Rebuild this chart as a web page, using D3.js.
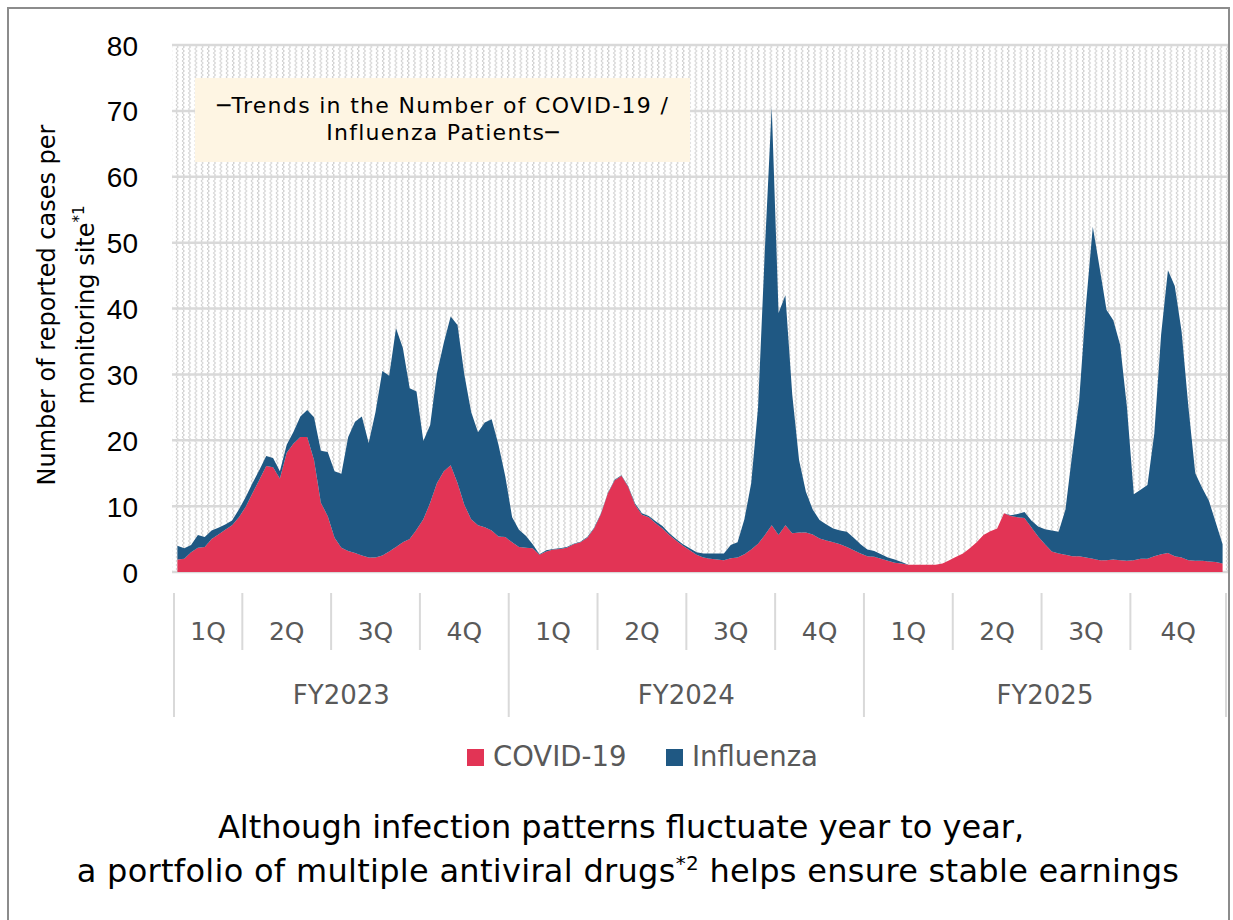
<!DOCTYPE html>
<html>
<head>
<meta charset="utf-8">
<script src="https://cdn.jsdelivr.net/npm/d3@7"></script>
<style>
  body { margin: 0; background: #fff; }
  svg { display: block; font-family: "DejaVu Sans", "Noto Sans", sans-serif; }
</style>
</head>
<body>
<div id="chartDiv"></div>
<script>
// weekly values, per monitoring site
var covid = [
  1.9, 2.0, 3.0, 3.7, 3.8, 5.0, 5.7, 6.4, 7.1, 8.3,
  9.9, 12.0, 14.0, 16.1, 15.9, 14.2, 18.1, 19.5, 20.5, 20.5,
  17.0, 10.5, 8.5, 5.2, 3.7, 3.2, 2.9, 2.5, 2.2, 2.2,
  2.5, 3.1, 3.8, 4.5, 5.0, 6.4, 8.0, 10.5, 13.5, 15.3,
  16.2, 13.5, 10.2, 8.0, 7.1, 6.8, 6.3, 5.4, 5.3, 4.5,
  3.8, 3.7, 3.6, 2.6, 3.1, 3.4, 3.5, 3.7, 4.2, 4.5,
  5.2, 6.6, 8.8, 11.9, 13.9, 14.6, 12.9, 10.2, 8.7, 8.3,
  7.4, 6.6, 5.6, 4.8, 4.0, 3.3, 2.6, 2.2, 2.0, 1.9,
  1.8, 2.1, 2.2, 2.7, 3.4, 4.3, 5.6, 7.1, 5.6, 7.1,
  5.9, 6.0, 6.0, 5.7, 5.1, 4.8, 4.5, 4.2, 3.8, 3.3,
  2.8, 2.4, 2.3, 2.0, 1.7, 1.4, 1.3, 1.1, 1.1, 1.1,
  1.1, 1.1, 1.3, 1.8, 2.3, 2.8, 3.6, 4.5, 5.6, 6.2,
  6.6, 8.9, 8.5, 8.3, 8.2, 6.8, 5.4, 4.2, 3.1, 2.8,
  2.6, 2.4, 2.4, 2.2, 2.0, 1.8, 1.8, 1.9, 1.8, 1.7,
  1.8, 2.0, 2.0, 2.4, 2.7, 2.9, 2.4, 2.2, 1.8, 1.7,
  1.7, 1.6, 1.5, 1.3
];
var influenza = [
  2.1, 1.6, 1.1, 1.9, 1.5, 1.3, 1.0, 0.8, 0.7, 1.2,
  1.5, 1.5, 1.5, 1.5, 1.4, 1.1, 1.2, 1.8, 3.1, 4.1,
  6.5, 7.9, 9.7, 10.1, 11.2, 17.3, 19.9, 21.1, 17.4, 22.1,
  28.0, 26.7, 33.2, 29.5, 22.9, 21.0, 11.9, 11.8, 16.7, 19.5,
  22.6, 24.0, 19.8, 16.3, 14.1, 15.9, 16.9, 13.9, 9.2, 3.8,
  2.6, 1.8, 0.6, 0.1, 0.2, 0.1, 0.1, 0.1, 0.1, 0.1,
  0.1, 0.1, 0.1, 0.1, 0.1, 0.1, 0.1, 0.2, 0.2, 0.2,
  0.3, 0.4, 0.3, 0.2, 0.2, 0.3, 0.4, 0.6, 0.8, 0.9,
  1.0, 2.0, 2.3, 5.3, 10.1, 20.7, 43.4, 63.5, 33.7, 34.9,
  21.1, 11.0, 6.2, 3.8, 2.8, 2.4, 2.1, 2.1, 2.3, 1.9,
  1.4, 1.0, 0.9, 0.7, 0.5, 0.5, 0.2, 0.0, 0.0, 0.0,
  0.0, 0.0, 0.0, 0.0, 0.0, 0.0, 0.0, 0.0, 0.0, 0.0,
  0.0, 0.0, 0.1, 0.5, 0.9, 1.0, 1.5, 2.3, 3.2, 3.3,
  6.9, 15.6, 23.6, 38.3, 50.4, 44.4, 38.0, 36.3, 32.7, 23.3,
  10.0, 10.5, 11.2, 18.6, 33.3, 42.9, 41.0, 34.3, 23.2, 13.3,
  11.1, 9.2, 6.0, 2.9
];

// x axis groups
var quarterWeeks = [10, 13, 13, 13, 13, 13, 13, 13, 13, 13, 13, 14];
var quarterLabels = ["1Q", "2Q", "3Q", "4Q", "1Q", "2Q", "3Q", "4Q", "1Q", "2Q", "3Q", "4Q"];
var fiscalYears = ["FY2023", "FY2024", "FY2025"];
var yTicks = [0, 10, 20, 30, 40, 50, 60, 70, 80];

var seriesNames = ["COVID-19", "Influenza"];
var colors = { "COVID-19": "#e23455", "Influenza": "#1f5883" };

var width = 1233, height = 920;
var plot = { left: 172, right: 1228, top: 45, bottom: 572 };
var axisStart = 174, axisEnd = 1226;

var svg = d3.select("#chartDiv").append("svg")
  .attr("width", width)
  .attr("height", height);

// outer frame
svg.append("rect")
  .attr("x", 8).attr("y", 8)
  .attr("width", 1221).attr("height", 940)
  .attr("fill", "#fff")
  .attr("stroke", "#8c8c8c")
  .attr("stroke-width", 2);

// hatched plot background
var defs = svg.append("defs");
var pat = defs.append("pattern")
  .attr("id", "hatch")
  .attr("patternUnits", "userSpaceOnUse")
  .attr("width", 6.25).attr("height", 4);
pat.append("rect").attr("width", 6.25).attr("height", 4).attr("fill", "#fff");
pat.append("path")
  .attr("d", "M1.5,0 V2 M2.5,2 V4")
  .attr("stroke", "#cfcfcf")
  .attr("stroke-width", 1.3);

svg.append("rect")
  .attr("x", plot.left).attr("y", plot.top)
  .attr("width", plot.right - plot.left)
  .attr("height", plot.bottom - plot.top)
  .attr("fill", "url(#hatch)");

var nWeeks = covid.length;
var x = d3.scaleBand()
  .domain(d3.range(nWeeks))
  .range([axisStart, axisEnd])
  .paddingInner(0).paddingOuter(0);

var y = d3.scaleLinear()
  .domain([0, 80])
  .range([plot.bottom, plot.top]);

// gridlines
svg.append("g")
  .selectAll("line")
  .data(yTicks)
  .enter().append("line")
    .attr("x1", plot.left).attr("x2", plot.right)
    .attr("y1", function(d) { return y(d); })
    .attr("y2", function(d) { return y(d); })
    .attr("stroke", "#d9d9d9")
    .attr("stroke-width", 2.5);

// stacked areas
var rows = d3.range(nWeeks).map(function(i) {
  return { i: i, "COVID-19": covid[i], "Influenza": influenza[i] };
});
var stack = d3.stack().keys(seriesNames);
var layers = stack(rows);

var area = d3.area()
  .x(function(d) { return x(d.data.i) + x.bandwidth() / 2; })
  .y0(function(d) { return y(d[0]); })
  .y1(function(d) { return y(d[1]); });

svg.append("g")
  .selectAll("path")
  .data(layers)
  .enter().append("path")
    .attr("d", area)
    .attr("fill", function(d) { return colors[d.key]; });

// y axis labels
var yAxis = d3.axisLeft(y).tickValues(yTicks).tickSize(0).tickPadding(0);
var yG = svg.append("g")
  .attr("transform", "translate(138,0)")
  .call(yAxis);
yG.select(".domain").remove();
yG.selectAll("text")
  .attr("font-size", 28)
  .attr("font-family", "'Liberation Sans', Arial, sans-serif")
  .attr("fill", "#000")
  .attr("dy", "0.36em");

// y axis title
var yTitle = svg.append("text")
  .attr("transform", "translate(0,305) rotate(-90)")
  .attr("text-anchor", "middle")
  .attr("font-size", 24)
  .attr("fill", "#000");
yTitle.append("tspan").attr("x", 0).attr("y", 55).text("Number of reported cases per");
yTitle.append("tspan").attr("x", 0).attr("y", 94).text("monitoring site");
yTitle.append("tspan").attr("dy", -10).attr("font-size", 15).text("*1");

// multi-level category axis
var bounds = [0];
quarterWeeks.forEach(function(w, k) { bounds.push(bounds[k] + w); });
var edge = function(k) { return k < nWeeks ? x(k) : axisEnd; };

var axisG = svg.append("g");
bounds.forEach(function(b, k) {
  var isYear = k % 4 === 0;
  axisG.append("line")
    .attr("x1", edge(b)).attr("x2", edge(b))
    .attr("y1", 593).attr("y2", isYear ? 717 : 650)
    .attr("stroke", "#d9d9d9")
    .attr("stroke-width", 2);
});
quarterLabels.forEach(function(q, k) {
  axisG.append("text")
    .attr("x", (edge(bounds[k]) + edge(bounds[k + 1])) / 2)
    .attr("y", 640)
    .attr("text-anchor", "middle")
    .attr("font-size", 25)
    .attr("fill", "#595959")
    .text(q);
});
fiscalYears.forEach(function(fy, k) {
  axisG.append("text")
    .attr("x", (edge(bounds[k * 4]) + edge(bounds[k * 4 + 4])) / 2)
    .attr("y", 704)
    .attr("text-anchor", "middle")
    .attr("font-size", 26)
    .attr("fill", "#595959")
    .text(fy);
});

// legend
var legendX = [467, 666];
var legend = svg.append("g")
  .selectAll("g")
  .data(seriesNames)
  .enter().append("g")
    .attr("transform", function(d, i) { return "translate(" + legendX[i] + ",749)"; });
legend.append("rect")
  .attr("width", 17).attr("height", 17)
  .attr("fill", function(d) { return colors[d]; });
legend.append("text")
  .attr("x", 26).attr("y", 17)
  .attr("font-size", 27.5)
  .attr("fill", "#595959")
  .text(function(d) { return d; });

// title box
svg.append("rect")
  .attr("x", 195).attr("y", 78)
  .attr("width", 495).attr("height", 84)
  .attr("fill", "#fef5e3");
svg.append("text")
  .attr("x", 443).attr("y", 113)
  .attr("text-anchor", "middle")
  .attr("font-size", 22)
  .attr("letter-spacing", 1.3)
  .attr("fill", "#000")
  .text("─Trends in the Number of COVID-19 /");
svg.append("text")
  .attr("x", 443).attr("y", 140)
  .attr("text-anchor", "middle")
  .attr("font-size", 22)
  .attr("letter-spacing", 1.3)
  .attr("fill", "#000")
  .text("Influenza Patients─");

// bottom message
svg.append("text")
  .attr("x", 621).attr("y", 838)
  .attr("text-anchor", "middle")
  .attr("font-size", 32)
  .attr("fill", "#000")
  .text("Although infection patterns fluctuate year to year,");
var msg = svg.append("text")
  .attr("x", 628).attr("y", 882)
  .attr("text-anchor", "middle")
  .attr("font-size", 32)
  .attr("letter-spacing", 0.3)
  .attr("fill", "#000");
msg.append("tspan").text("a portfolio of multiple antiviral drugs");
msg.append("tspan").attr("dy", -12).attr("font-size", 20).text("*2");
msg.append("tspan").attr("dy", 12).text(" helps ensure stable earnings");
</script>
</body>
</html>
